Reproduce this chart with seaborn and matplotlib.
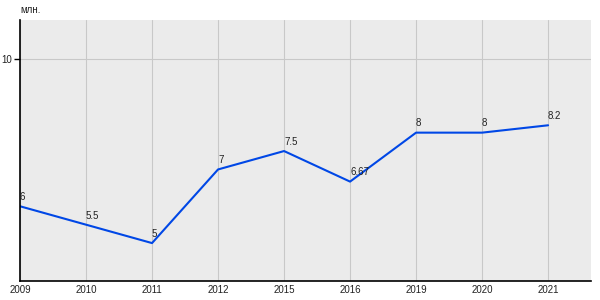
import matplotlib
matplotlib.use("Agg")
import matplotlib.pyplot as plt
import seaborn as sns
import pandas as pd

years = ["2009", "2010", "2011", "2012", "2015", "2016", "2019", "2020", "2021"]
values = [6, 5.5, 5, 7, 7.5, 6.67, 8, 8, 8.2]
labels = ["6", "5.5", "5", "7", "7.5", "6.67", "8", "8", "8.2"]
unit = "млн."

sns.set_theme(style="darkgrid")
plt.rcParams["font.family"] = ["Liberation Sans", "DejaVu Sans"]

df = pd.DataFrame({"pos": list(range(len(years))), "value": values})

fig = plt.figure(figsize=(6, 3), dpi=100)
ax = fig.add_axes([20 / 600, 1 - 281 / 300, 571 / 600, 261 / 300])
ax.set_facecolor("#ebebeb")

sns.lineplot(data=df, x="pos", y="value", ax=ax, color="#0047e6", linewidth=1.5)

for i, (v, lab) in enumerate(zip(values, labels)):
    ax.annotate(lab, (i, v), xytext=(0, 3), textcoords="offset points",
                ha="left", va="bottom", fontsize=7, color="#222222")

ax.set_xlim(0, 8.65)
ax.set_ylim(3.97, 11.06)
ax.set_xticks(range(len(years)))
ax.set_xticklabels(years, fontsize=7, color="#222222")
ax.set_yticks([10])
ax.set_yticklabels(["10"], fontsize=7, color="#222222")
ax.set_xlabel("")
ax.set_ylabel("")

ax.grid(True, color="#c8c8c8", linewidth=0.8)
ax.tick_params(axis="x", length=0, pad=3)
ax.tick_params(axis="y", length=4, width=1, color="black", pad=2, left=True)

for side in ["top", "right"]:
    ax.spines[side].set_visible(False)
for side in ["left", "bottom"]:
    ax.spines[side].set_visible(True)
    ax.spines[side].set_color("black")
    ax.spines[side].set_linewidth(1.2)

fig.text(20 / 600, 1 - 10 / 300, unit, fontsize=7, ha="left", va="center", color="#222222")

fig.savefig("out.png", dpi=100, facecolor="white")
